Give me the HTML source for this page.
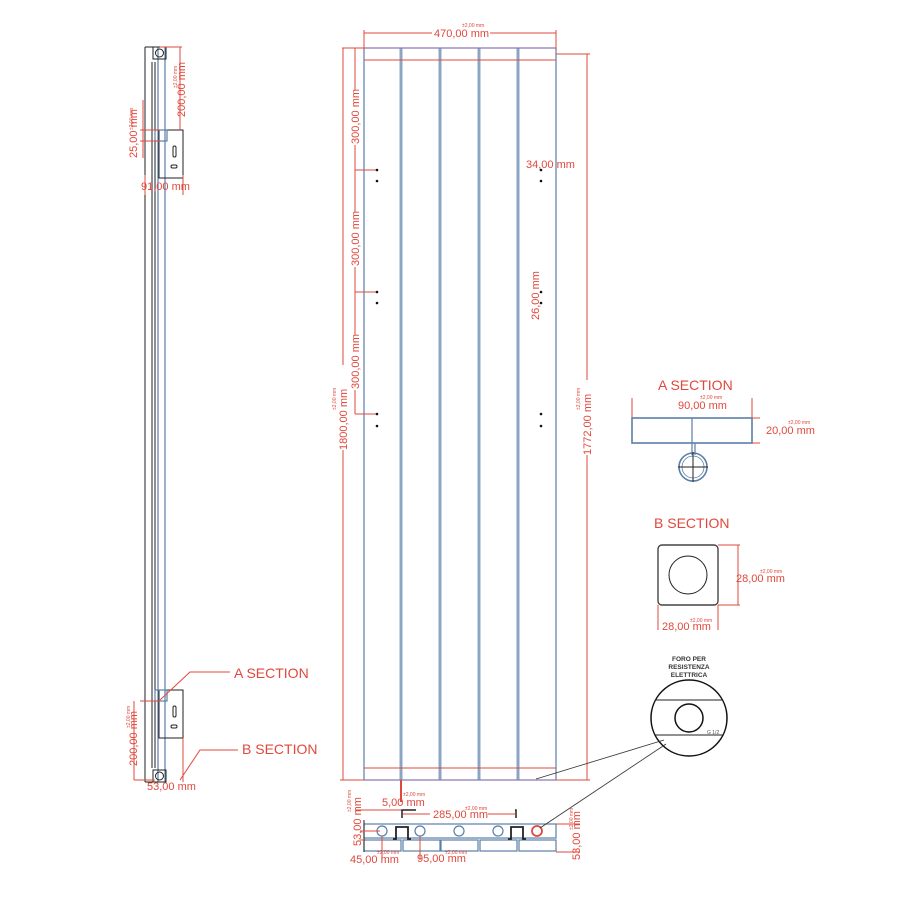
<!DOCTYPE html>
<html><head><meta charset="utf-8"><style>
html,body{margin:0;padding:0;background:#fff;}
svg{display:block;font-family:"Liberation Sans",sans-serif;}
.r{stroke:#e0483c;fill:none;stroke-width:1;}
.b{stroke:#5b7fa6;fill:none;stroke-width:1.2;}
.bb{stroke:#8aa6c4;fill:none;stroke-width:3;}
.k{stroke:#222;fill:none;stroke-width:1;}
.t{fill:#e0483c;font-size:11px;}
.s{fill:#e0483c;font-size:5px;}
.h{fill:#e0483c;font-size:14px;}
</style></head><body>
<svg width="900" height="900" viewBox="0 0 900 900" xmlns="http://www.w3.org/2000/svg">
<!-- ===== SIDE VIEW ===== -->
<g>
<line class="k" x1="145" y1="47" x2="145" y2="782"/>
<line class="k" x1="145" y1="47" x2="165" y2="47"/>
<line class="k" x1="145" y1="782" x2="165" y2="782"/>
<line class="k" x1="152" y1="62" x2="152" y2="768"/>
<line class="k" x1="155" y1="62" x2="155" y2="768"/>
<line class="b" x1="158" y1="47" x2="158" y2="782"/>
<line class="b" x1="165" y1="47" x2="165" y2="782"/>
<rect class="k" x="153" y="47" width="13" height="12"/>
<circle class="k" cx="159.5" cy="53" r="4"/>
<rect class="k" x="153" y="770" width="13" height="12"/>
<circle class="k" cx="159.5" cy="776" r="4"/>
<!-- brackets -->
<rect class="k" x="159" y="130" width="24" height="48"/>
<rect class="b" x="155" y="130" width="12" height="11"/>
<rect class="k" x="173" y="146" width="3" height="11" rx="1.5"/>
<rect class="k" x="171" y="165" width="6" height="3" rx="1.5"/>
<rect class="k" x="159" y="690" width="24" height="48"/>
<rect class="b" x="155" y="690" width="12" height="11"/>
<rect class="k" x="173" y="706" width="3" height="11" rx="1.5"/>
<rect class="k" x="171" y="725" width="6" height="3" rx="1.5"/>
<!-- dims -->
<line class="r" x1="160" y1="47" x2="182" y2="47"/>
<line class="r" x1="180" y1="47" x2="180" y2="130"/>
<text class="t" transform="translate(185,117) rotate(-90)">200,00 mm</text>
<text class="s" transform="translate(177,88) rotate(-90)">±2,00 mm</text>
<line class="r" x1="140" y1="130" x2="160" y2="130"/>
<line class="r" x1="140" y1="141" x2="160" y2="141"/>
<line class="r" x1="143" y1="100" x2="143" y2="158"/>
<text class="t" transform="translate(137,158) rotate(-90)">25,00 mm</text>
<text class="s" transform="translate(133,130) rotate(-90)">±2,00 mm</text>
<line class="r" x1="145" y1="175" x2="145" y2="195"/>
<line class="r" x1="183" y1="175" x2="183" y2="195"/>
<text class="t" x="141" y="190">91,00 mm</text>
<line class="r" x1="140" y1="701" x2="160" y2="701"/>
<line class="r" x1="134" y1="701" x2="134" y2="780"/>
<line class="r" x1="134" y1="780" x2="155" y2="780"/>
<text class="t" transform="translate(137,766) rotate(-90)">200,00 mm</text>
<text class="s" transform="translate(130,728) rotate(-90)">±2,00 mm</text>
<line class="r" x1="183" y1="738" x2="183" y2="782"/>
<text class="t" x="147" y="790">53,00 mm</text>
<polyline class="r" points="160,700 190,672 230,672"/>
<text class="h" x="234" y="678">A SECTION</text>
<polyline class="r" points="180,780 200,750 238,750"/>
<text class="h" x="242" y="754">B SECTION</text>
</g>

<!-- ===== FRONT PANEL ===== -->
<g>
<line class="b" x1="364" y1="48" x2="364" y2="780"/>
<line class="bb" x1="401" y1="48" x2="401" y2="780"/>
<line class="bb" x1="440" y1="48" x2="440" y2="780"/>
<line class="bb" x1="479" y1="48" x2="479" y2="780"/>
<line class="bb" x1="518" y1="48" x2="518" y2="780"/>
<line class="b" x1="556" y1="48" x2="556" y2="780"/>
<line class="b" x1="364" y1="48" x2="556" y2="48" style="stroke:#8a7ab0"/>
<line class="r" x1="364" y1="60" x2="556" y2="60"/>
<line class="r" x1="364" y1="768" x2="556" y2="768"/>
<line class="b" x1="364" y1="780" x2="556" y2="780" style="stroke:#8a7ab0"/>
<!-- 470 -->
<line class="r" x1="364" y1="33" x2="432" y2="33"/>
<line class="r" x1="490" y1="33" x2="556" y2="33"/>
<line class="r" x1="364" y1="30" x2="364" y2="50"/>
<line class="r" x1="556" y1="30" x2="556" y2="50"/>
<text class="t" x="434" y="37">470,00 mm</text>
<text class="s" x="462" y="27">±2,00 mm</text>
<!-- 1800 -->
<line class="r" x1="342" y1="48" x2="364" y2="48"/>
<line class="r" x1="343" y1="48" x2="343" y2="365"/>
<line class="r" x1="343" y1="450" x2="343" y2="780"/>
<line class="r" x1="340" y1="780" x2="364" y2="780"/>
<text class="t" transform="translate(347,450) rotate(-90)">1800,00 mm</text>
<text class="s" transform="translate(336,410) rotate(-90)">±2,00 mm</text>
<!-- 300s -->
<line class="r" x1="355" y1="48" x2="355" y2="90"/>
<line class="r" x1="355" y1="145" x2="355" y2="212"/>
<line class="r" x1="355" y1="267" x2="355" y2="335"/>
<line class="r" x1="355" y1="390" x2="355" y2="414"/>
<text class="t" transform="translate(359,144) rotate(-90)">300,00 mm</text>
<text class="t" transform="translate(359,266) rotate(-90)">300,00 mm</text>
<text class="t" transform="translate(359,389) rotate(-90)">300,00 mm</text>
<line class="r" x1="355" y1="170" x2="377" y2="170"/>
<line class="r" x1="355" y1="292" x2="377" y2="292"/>
<line class="r" x1="355" y1="414" x2="377" y2="414"/>
<!-- dots -->
<g fill="#111">
<circle cx="377" cy="170" r="1.3"/><circle cx="377" cy="181" r="1.3"/>
<circle cx="377" cy="292" r="1.3"/><circle cx="377" cy="303" r="1.3"/>
<circle cx="377" cy="414" r="1.3"/><circle cx="377" cy="426" r="1.3"/>
<circle cx="541" cy="170" r="1.3"/><circle cx="541" cy="181" r="1.3"/>
<circle cx="541" cy="292" r="1.3"/><circle cx="541" cy="303" r="1.3"/>
<circle cx="541" cy="414" r="1.3"/><circle cx="541" cy="426" r="1.3"/>
</g>
<text class="t" x="526" y="168">34,00 mm</text>
<text class="t" transform="translate(539,320) rotate(-90)">26,00 mm</text>
<!-- 1772 -->
<line class="r" x1="556" y1="54" x2="590" y2="54"/>
<line class="r" x1="587" y1="54" x2="587" y2="380"/>
<line class="r" x1="587" y1="455" x2="587" y2="780"/>
<line class="r" x1="556" y1="780" x2="590" y2="780"/>
<text class="t" transform="translate(591,455) rotate(-90)">1772,00 mm</text>
<text class="s" transform="translate(580,410) rotate(-90)">±2,00 mm</text>
</g>

<!-- ===== BOTTOM VIEW ===== -->
<g>
<line class="r" x1="401" y1="780" x2="401" y2="802" style="stroke-width:2"/>
<text class="t" x="382" y="806">5,00 mm</text>
<text class="s" x="403" y="796">±2,00 mm</text>
<line class="r" x1="355" y1="810" x2="405" y2="810"/>
<line class="r" x1="403" y1="814" x2="430" y2="814"/>
<line class="r" x1="488" y1="814" x2="515" y2="814"/>
<text class="t" x="433" y="818">285,00 mm</text>
<text class="s" x="465" y="810">±2,00 mm</text>
<polyline class="k" points="402,818 402,810 416,810" style="stroke-width:1.5"/>
<polyline class="k" points="515,810 516,810 516,818" style="stroke-width:1.5"/>
<rect class="b" x="364" y="824" width="192" height="14"/>
<g class="b">
<rect x="364" y="840" width="37" height="11"/><rect x="403" y="840" width="37" height="11"/>
<rect x="441" y="840" width="37" height="11"/><rect x="480" y="840" width="37" height="11"/>
<rect x="519" y="840" width="37" height="11"/>
</g>
<g class="b"><circle cx="382" cy="831" r="5"/><circle cx="420" cy="831" r="5"/><circle cx="459" cy="831" r="5"/><circle cx="498" cy="831" r="5"/></g>
<circle cx="537" cy="831" r="5" style="fill:none;stroke:#e0483c;stroke-width:1.8"/>
<polyline class="k" points="393,839 396,839 396,827 408,827 408,839 411,839" style="stroke-width:1.8"/>
<polyline class="k" points="508,839 511,839 511,827 523,827 523,839 526,839" style="stroke-width:1.8"/>
<line class="k" x1="364" y1="820" x2="364" y2="852"/>
<line class="r" x1="360" y1="831" x2="380" y2="831"/>
<line class="r" x1="360" y1="840" x2="364" y2="840"/>
<text class="t" transform="translate(361,846) rotate(-90)">53,00 mm</text>
<text class="s" transform="translate(351,812) rotate(-90)">±2,00 mm</text>
<line class="r" x1="382" y1="836" x2="382" y2="860"/>
<line class="r" x1="420" y1="836" x2="420" y2="860"/>
<text class="t" x="350" y="863">45,00 mm</text>
<text class="s" x="377" y="854">±2,00 mm</text>
<text class="t" x="417" y="862">95,00 mm</text>
<text class="s" x="445" y="854">±2,00 mm</text>
<line class="r" x1="556" y1="824" x2="580" y2="824"/>
<line class="r" x1="556" y1="852" x2="580" y2="852"/>
<text class="t" transform="translate(580,860) rotate(-90)">53,00 mm</text>
<text class="s" transform="translate(573,830) rotate(-90)">±2,00 mm</text>
</g>

<!-- ===== A SECTION ===== -->
<g>
<text class="h" x="658" y="390">A SECTION</text>
<text class="t" x="678" y="409">90,00 mm</text>
<text class="s" x="700" y="399">±2,00 mm</text>
<line class="r" x1="632" y1="398" x2="632" y2="440"/>
<line class="r" x1="752" y1="398" x2="752" y2="440"/>
<rect x="632" y="418" width="120" height="25" style="fill:none;stroke:#5b7fa6;stroke-width:1.6"/>
<line class="b" x1="692" y1="418" x2="692" y2="455"/>
<line class="b" x1="695" y1="443" x2="695" y2="455"/>
<circle cx="693" cy="467" r="14" style="fill:none;stroke:#5b7fa6;stroke-width:1.6"/>
<circle cx="693" cy="467" r="11" class="b" style="stroke-width:0.8"/>
<line class="k" x1="678" y1="467" x2="708" y2="467"/>
<line class="k" x1="693" y1="452" x2="693" y2="482"/>
<line class="r" x1="752" y1="418" x2="760" y2="418"/>
<line class="r" x1="752" y1="443" x2="760" y2="443"/>
<text class="t" x="766" y="434">20,00 mm</text>
<text class="s" x="788" y="424">±2,00 mm</text>
</g>

<!-- ===== B SECTION ===== -->
<g>
<text class="h" x="654" y="528">B SECTION</text>
<rect x="658" y="545" width="60" height="60" rx="4" style="fill:none;stroke:#444;stroke-width:1.4"/>
<circle cx="688" cy="575" r="19" class="k"/>
<line class="r" x1="718" y1="545" x2="740" y2="545"/>
<line class="r" x1="718" y1="605" x2="740" y2="605"/>
<line class="r" x1="738" y1="545" x2="738" y2="605"/>
<text class="t" x="736" y="582">28,00 mm</text>
<text class="s" x="760" y="573">±2,00 mm</text>
<line class="r" x1="658" y1="605" x2="658" y2="630"/>
<line class="r" x1="718" y1="605" x2="718" y2="630"/>
<text class="t" x="662" y="630">28,00 mm</text>
<text class="s" x="690" y="622">±2,00 mm</text>
</g>

<!-- ===== DETAIL ===== -->
<g>
<text x="689" y="661" text-anchor="middle" style="font-size:6.5px;font-weight:bold;fill:#333">FORO PER</text>
<text x="689" y="669" text-anchor="middle" style="font-size:6.5px;font-weight:bold;fill:#333">RESISTENZA</text>
<text x="689" y="677" text-anchor="middle" style="font-size:6.5px;font-weight:bold;fill:#333">ELETTRICA</text>
<circle cx="689" cy="718" r="38" style="fill:none;stroke:#111;stroke-width:1.5"/>
<line class="k" x1="655" y1="700" x2="723" y2="700"/>
<line class="k" x1="655" y1="735" x2="723" y2="735"/>
<circle cx="689" cy="718" r="14" style="fill:none;stroke:#111;stroke-width:1.5"/>
<text x="707" y="734" style="font-size:5px;fill:#555">G 1/2</text>
<line x1="664" y1="740" x2="536" y2="779" style="stroke:#333;stroke-width:0.8"/>
<line x1="666" y1="744" x2="540" y2="828" style="stroke:#333;stroke-width:0.8"/>
</g>
</svg>
</body></html>
